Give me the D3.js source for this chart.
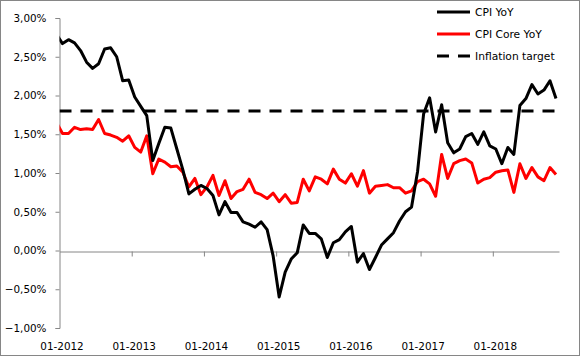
<!DOCTYPE html>
<html><head><meta charset="utf-8">
<script src="https://cdn.jsdelivr.net/npm/d3@7"></script>
<style>html,body{margin:0;padding:0;background:#fff;}svg{display:block;}</style>
</head><body>
<svg id="c" width="580" height="356"></svg>
<script>
// Months: first entry (12-2011) lies just left of the axis start and is clipped
const months = d3.timeMonth.range(new Date(2011, 11, 1), new Date(2018, 11, 1)).map(d3.timeFormat("%m-%Y"));
const cpiYoY = [2.79, 2.67, 2.72, 2.68, 2.58, 2.43, 2.35, 2.41, 2.60, 2.615, 2.50, 2.19, 2.20,
  1.98, 1.86, 1.74, 1.16, 1.38, 1.59, 1.58, 1.31, 1.04, 0.73, 0.79, 0.84,
  0.80, 0.71, 0.46, 0.63, 0.49, 0.49, 0.37, 0.34, 0.30, 0.37, 0.27, -0.07,
  -0.60, -0.28, -0.11, -0.03, 0.33, 0.22, 0.22, 0.15, -0.09, 0.10, 0.14, 0.24,
  0.31, -0.15, -0.04, -0.245, -0.09, 0.07, 0.15, 0.23, 0.38, 0.50, 0.56, 1.02,
  1.76, 1.97, 1.53, 1.88, 1.39, 1.26, 1.31, 1.47, 1.51, 1.37, 1.53, 1.35,
  1.31, 1.12, 1.33, 1.24, 1.87, 1.96, 2.14, 2.02, 2.07, 2.19, 1.96];
const cpiCoreYoY = [1.65, 1.51, 1.51, 1.59, 1.56, 1.57, 1.56, 1.69, 1.51, 1.49, 1.46, 1.41, 1.48,
  1.33, 1.27, 1.48, 0.99, 1.18, 1.14, 1.08, 1.09, 1.01, 0.82, 0.93, 0.72,
  0.82, 0.97, 0.71, 0.90, 0.67, 0.76, 0.79, 0.92, 0.75, 0.72, 0.67, 0.74,
  0.63, 0.72, 0.61, 0.62, 0.92, 0.77, 0.95, 0.92, 0.86, 1.05, 0.92, 0.87,
  0.99, 0.83, 1.03, 0.74, 0.83, 0.84, 0.85, 0.81, 0.81, 0.74, 0.77, 0.89,
  0.92, 0.86, 0.70, 1.24, 0.93, 1.12, 1.16, 1.18, 1.13, 0.87, 0.92, 0.94,
  1.01, 1.03, 1.04, 0.75, 1.12, 0.93, 1.07, 0.95, 0.90, 1.07, 0.98];
const inflationTarget = 1.8;
const yTicks = [-1, -0.5, 0, 0.5, 1, 1.5, 2, 2.5, 3];
const xTickLabels = ["01-2012", "01-2013", "01-2014", "01-2015", "01-2016", "01-2017", "01-2018"];
const seriesNames = ["CPI YoY", "CPI Core YoY", "Inflation target"];

(function () {
const svg = d3.select("#c");
const W = 580, H = 356;
const mLeft = 59.5, mRight = 559, mTop = 18, mBottom = 328;
const nAxisMonths = months.length - 1; // 01-2012 .. 11-2018 on axis

svg.append("rect").attr("x", 0.5).attr("y", 0.5).attr("width", W - 1).attr("height", H - 1)
  .attr("fill", "#fff").attr("stroke", "#868686").attr("stroke-width", 1);

// index -1 = 12-2011, 0 = 01-2012 ...
const x = d3.scaleLinear().domain([0, nAxisMonths]).range([mLeft, mRight]);
const xc = i => x(i + 0.5);
const y = d3.scaleLinear().domain([-1, 3]).range([mBottom, mTop]);

const fmt = v => d3.format(".2f")(v).replace(".", ",") + "%";
const axisFont = "DejaVu Sans, Verdana, sans-serif";

// Y axis
const yAxis = svg.append("g").attr("transform", `translate(${mLeft},0)`)
  .call(d3.axisLeft(y).tickValues(yTicks).tickSize(4).tickPadding(9).tickFormat(fmt));
yAxis.select(".domain").attr("stroke", "#868686");
yAxis.selectAll(".tick line").attr("stroke", "#868686");
yAxis.selectAll("text").attr("font-family", axisFont).attr("font-size", "10.4px").attr("fill", "#000");

// X axis at zero line: ticks every 12 months
const tickIdx = xTickLabels.map((d, k) => k * 12);
const xAxis = svg.append("g").attr("transform", `translate(0,${Math.round(y(0)) + 0.5})`)
  .call(d3.axisBottom(x).tickValues(tickIdx.slice(1)).tickSize(5).tickFormat("").tickSizeOuter(0));
xAxis.select(".domain").attr("stroke", "#868686");
xAxis.selectAll(".tick line").attr("stroke", "#868686");

// X labels at bottom, centred on category
svg.append("g").selectAll("text").data(xTickLabels).join("text")
  .attr("x", (d, k) => xc(tickIdx[k]) - 0.5)
  .attr("y", 349.5)
  .attr("text-anchor", "middle")
  .attr("font-family", axisFont).attr("font-size", "10.4px").attr("fill", "#000")
  .text(d => d);

// clip to plot area
svg.append("clipPath").attr("id", "plotclip").append("rect")
  .attr("x", mLeft).attr("y", 0).attr("width", mRight - mLeft).attr("height", H);

const plot = svg.append("g").attr("clip-path", "url(#plotclip)");
const line = d3.line().x((d, i) => xc(i - 1)).y(d => y(d));

// target line
plot.append("line")
  .attr("x1", mLeft).attr("x2", mRight)
  .attr("y1", y(inflationTarget)).attr("y2", y(inflationTarget))
  .attr("stroke", "#000").attr("stroke-width", 3).attr("stroke-dasharray", "12,9");

plot.append("path").datum(cpiCoreYoY).attr("d", line)
  .attr("fill", "none").attr("stroke", "#ff0000").attr("stroke-width", 3).attr("stroke-linejoin", "round");
plot.append("path").datum(cpiYoY).attr("d", line)
  .attr("fill", "none").attr("stroke", "#000").attr("stroke-width", 3).attr("stroke-linejoin", "round");

// Legend
const legendStyles = [
  {color: "#000", dash: null},
  {color: "#ff0000", dash: null},
  {color: "#000", dash: "12,9"}
];
const lg = svg.append("g");
seriesNames.forEach((name, k) => {
  const ly = 12 + k * 22;
  const l = lg.append("line").attr("x1", 437).attr("x2", 470).attr("y1", ly).attr("y2", ly)
    .attr("stroke", legendStyles[k].color).attr("stroke-width", 3);
  if (legendStyles[k].dash) l.attr("stroke-dasharray", legendStyles[k].dash);
  lg.append("text").attr("x", 475).attr("y", ly).attr("dy", "0.35em")
    .attr("font-family", axisFont).attr("font-size", "10.7px").attr("fill", "#000").text(name);
});
})();
</script>
</body></html>
